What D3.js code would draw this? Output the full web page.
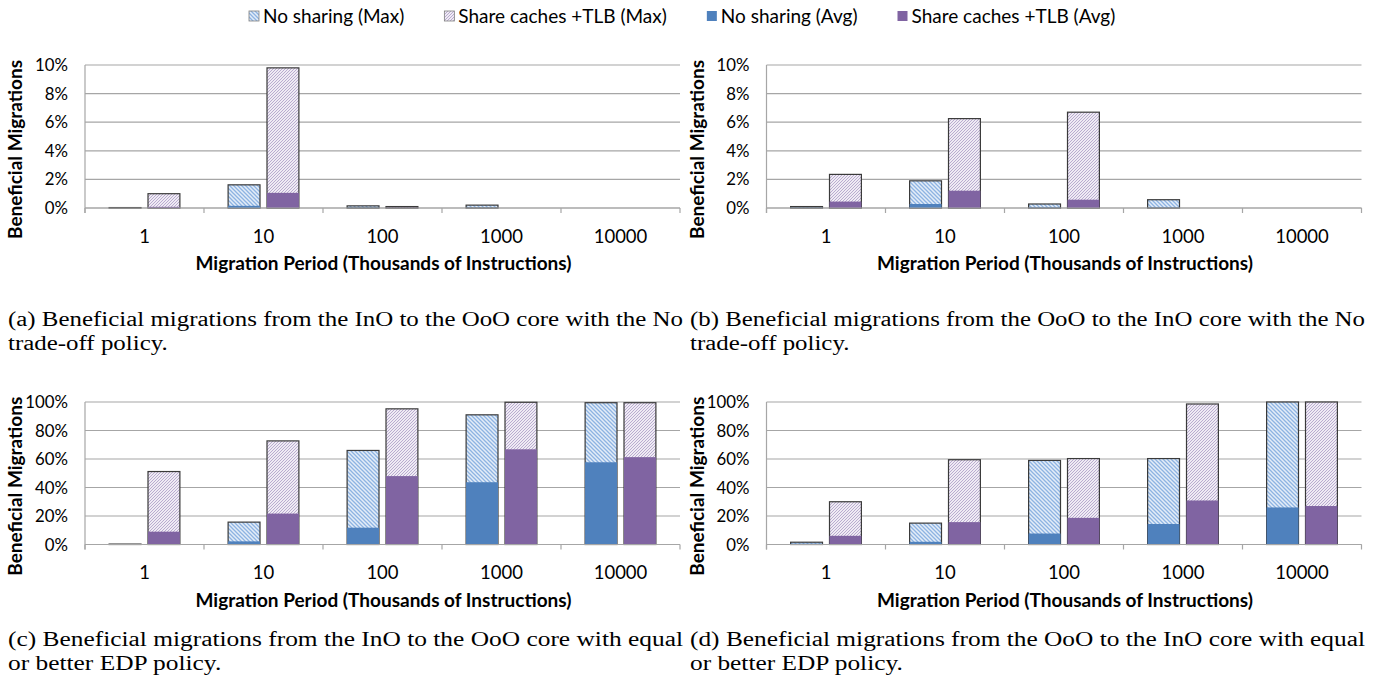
<!DOCTYPE html>
<html>
<head>
<meta charset="utf-8">
<script src="https://cdn.jsdelivr.net/npm/d3@7"></script>
<style>
  body { margin: 0; background: #fff; }
  #wrap { position: relative; width: 1374px; height: 679px; overflow: hidden; }
  svg { position: absolute; left: 0; top: 0; }
  .cap { position: absolute; white-space: nowrap; font-family: "Liberation Serif", "Times New Roman", serif; font-size: 20px; line-height: 24px; color: #000; transform-origin: 0 0; }
  .cap span { display: inline-block; }
</style>
</head>
<body>
<div id="wrap">
  <svg id="chart" width="1374" height="679"></svg>
</div>
<script>
// categories (migration period, thousands of instructions)
var periods = ["1", "10", "100", "1000", "10000"];
var seriesNames = ["No sharing (Max)", "Share caches +TLB (Max)", "No sharing (Avg)", "Share caches +TLB (Avg)"];

// (a) InO -> OoO, No trade-off  (percent)
var a_noShareMax = [0.03, 1.62, 0.15, 0.2, 0];
var a_noShareAvg = [0, 0.15, 0.02, 0.01, 0];
var a_shareMax   = [1.0, 9.8, 0.1, 0, 0];
var a_shareAvg   = [0.08, 1.06, 0.02, 0, 0];

// (b) OoO -> InO, No trade-off
var b_noShareMax = [0.1, 1.9, 0.28, 0.58, 0];
var b_noShareAvg = [0.02, 0.28, 0.03, 0.02, 0];
var b_shareMax   = [2.35, 6.25, 6.7, 0, 0];
var b_shareAvg   = [0.45, 1.21, 0.58, 0, 0];

// (c) InO -> OoO, equal or better EDP
var c_noShareMax = [0.3, 15.7, 66, 91, 99.5];
var c_noShareAvg = [0, 2.2, 11.8, 43.7, 57.7];
var c_shareMax   = [51.2, 72.7, 95.2, 99.8, 99.5];
var c_shareAvg   = [9, 21.7, 48, 66.8, 61.3];

// (d) OoO -> InO, equal or better EDP
var d_noShareMax = [1.6, 15, 59, 60.3, 100];
var d_noShareAvg = [0.6, 1.9, 7.7, 14.4, 26];
var d_shareMax   = [30, 59.5, 60.3, 98.6, 100];
var d_shareAvg   = [6.1, 15.7, 18.7, 30.9, 27];

var smallTicks = [0, 2, 4, 6, 8, 10];
var bigTicks = [0, 20, 40, 60, 80, 100];

var captions = [
  ["(a) Beneficial migrations from the InO to the OoO core with the No", "trade-off policy."],
  ["(b) Beneficial migrations from the OoO to the InO core with the No", "trade-off policy."],
  ["(c) Beneficial migrations from the InO to the OoO core with equal", "or better EDP policy."],
  ["(d) Beneficial migrations from the OoO to the InO core with equal", "or better EDP policy."]
];

var uiFont = "Lato, 'Open Sans', sans-serif";
var blue = "#4f81bd", purple = "#8064a2";

var svg = d3.select("#chart");

// hatch patterns for the Max bars
var defs = svg.append("defs");
var pb = defs.append("pattern").attr("id", "hatchBlue")
  .attr("patternUnits", "userSpaceOnUse").attr("width", 4).attr("height", 4);
pb.append("rect").attr("width", 4).attr("height", 4).attr("fill", "#e4edf8");
pb.append("path").attr("d", "M-1,-1 L5,5 M3,-1 L5,1 M-1,3 L1,5")
  .attr("stroke", "#8db3e2").attr("stroke-width", 1.3);
var pp = defs.append("pattern").attr("id", "hatchPurple")
  .attr("patternUnits", "userSpaceOnUse").attr("width", 3).attr("height", 3);
pp.append("rect").attr("width", 3).attr("height", 3).attr("fill", "#efebf4");
pp.append("path").attr("d", "M-1,4 L4,-1 M-1,1 L1,-1 M2,4 L4,2")
  .attr("stroke", "#b9abd0").attr("stroke-width", 1);

var panels = [
  {left: 85, right: 680, top: 65, bottom: 208, max: 10, ticks: smallTicks,
   nsMax: a_noShareMax, nsAvg: a_noShareAvg, shMax: a_shareMax, shAvg: a_shareAvg},
  {left: 766.5, right: 1361.5, top: 65, bottom: 208, max: 10, ticks: smallTicks,
   nsMax: b_noShareMax, nsAvg: b_noShareAvg, shMax: b_shareMax, shAvg: b_shareAvg},
  {left: 85, right: 680, top: 402, bottom: 544.5, max: 100, ticks: bigTicks,
   nsMax: c_noShareMax, nsAvg: c_noShareAvg, shMax: c_shareMax, shAvg: c_shareAvg},
  {left: 766.5, right: 1361.5, top: 402, bottom: 544.5, max: 100, ticks: bigTicks,
   nsMax: d_noShareMax, nsAvg: d_noShareAvg, shMax: d_shareMax, shAvg: d_shareAvg}
];

panels.forEach(function(p){
  var g = svg.append("g");
  var x = d3.scaleBand().domain(periods).range([p.left, p.right]);
  var x1 = d3.scaleBand().domain(["ns", "sh"]).range([0, x.bandwidth()])
    .paddingInner(0.18).paddingOuter(0.62);
  var y = d3.scaleLinear().domain([0, p.max]).range([p.bottom, p.top]);

  // gridlines
  g.selectAll(".grid").data(p.ticks).enter().append("line")
    .attr("x1", p.left).attr("x2", p.right)
    .attr("y1", function(d){ return y(d); }).attr("y2", function(d){ return y(d); })
    .attr("stroke", "#a6a6a6").attr("stroke-width", 1.2);

  // y axis line
  g.append("line").attr("x1", p.left).attr("x2", p.left)
    .attr("y1", p.top).attr("y2", p.bottom + 5)
    .attr("stroke", "#a6a6a6").attr("stroke-width", 1.2);

  // y tick labels
  g.selectAll(".yl").data(p.ticks).enter().append("text")
    .attr("x", p.left - 17).attr("y", function(d){ return y(d) + 6; })
    .attr("text-anchor", "end").attr("font-family", uiFont).attr("font-size", 16.8)
    .attr("fill", "#000").text(function(d){ return d + "%"; });

  // bars: Max (hatched) behind, Avg (solid) in front
  var groups = periods.map(function(c, i){
    return {cat: c, nsMax: p.nsMax[i], nsAvg: p.nsAvg[i], shMax: p.shMax[i], shAvg: p.shAvg[i]};
  });
  var bars = [];
  groups.forEach(function(d){
    bars.push({cat: d.cat, k: "ns", v: d.nsMax, fill: "url(#hatchBlue)", stroke: true});
    bars.push({cat: d.cat, k: "sh", v: d.shMax, fill: "url(#hatchPurple)", stroke: true});
    bars.push({cat: d.cat, k: "ns", v: d.nsAvg, fill: blue, stroke: false});
    bars.push({cat: d.cat, k: "sh", v: d.shAvg, fill: purple, stroke: false});
  });
  g.selectAll(".bar").data(bars.filter(function(b){ return b.v > 0; })).enter().append("rect")
    .attr("x", function(b){ return x(b.cat) + x1(b.k); })
    .attr("width", x1.bandwidth())
    .attr("y", function(b){ return y(b.v); })
    .attr("height", function(b){ return Math.max(0, p.bottom - y(b.v)); })
    .attr("fill", function(b){ return b.fill; })
    .attr("stroke", function(b){ return b.stroke ? "#3a3a3a" : "none"; })
    .attr("stroke-width", 1.2);

  // bottom axis
  var xAxis = d3.axisBottom(x).tickSize(0).tickPadding(0).tickFormat(function(){ return ""; });
  var ax = g.append("g").attr("transform", "translate(0," + p.bottom + ")").call(xAxis);
  ax.select(".domain").remove();
  g.append("line").attr("x1", p.left).attr("x2", p.right)
    .attr("y1", p.bottom).attr("y2", p.bottom)
    .attr("stroke", "#a6a6a6").attr("stroke-width", 1.2);
  var bounds = periods.map(function(c){ return x(c); }).concat([p.right]);
  g.selectAll(".xt").data(bounds).enter().append("line")
    .attr("x1", function(d){ return d; }).attr("x2", function(d){ return d; })
    .attr("y1", p.bottom).attr("y2", p.bottom + 5)
    .attr("stroke", "#a6a6a6").attr("stroke-width", 1.2);
  g.selectAll(".xl").data(periods).enter().append("text")
    .attr("x", function(d){ return x(d) + x.bandwidth() / 2; })
    .attr("y", p.bottom + 34.5)
    .attr("text-anchor", "middle").attr("font-family", uiFont).attr("font-size", 18.5)
    .text(function(d){ return d; });

  // axis titles
  g.append("text").attr("x", (p.left + p.right) / 2 + 1).attr("y", p.bottom + 62)
    .attr("text-anchor", "middle").attr("font-family", uiFont).attr("font-weight", "bold")
    .attr("font-size", 19).text("Migration Period (Thousands of Instructions)");
  g.append("text")
    .attr("transform", "translate(" + (p.left - 63) + "," + ((p.top + p.bottom) / 2 + 13) + ") rotate(-90)")
    .attr("text-anchor", "middle").attr("font-family", uiFont).attr("font-weight", "bold")
    .attr("font-size", 19).text("Beneficial Migrations");
});

// legend
var legendFills = ["url(#hatchBlue)", "url(#hatchPurple)", blue, purple];
var lg = svg.append("g");
var lx = 249;
seriesNames.forEach(function(name, i){
  lg.append("rect").attr("x", lx).attr("y", 11).attr("width", 10).attr("height", 10)
    .attr("fill", legendFills[i]).attr("stroke", i < 2 ? "#7f7f7f" : "none").attr("stroke-width", 0.8);
  var t = lg.append("text").attr("x", lx + 14).attr("y", 22.5)
    .attr("font-family", uiFont).attr("font-size", 19).text(name);
  lx += 14 + t.node().getComputedTextLength() + 40;
});

// captions: the source figure is stretched horizontally, so stretch each caption to the column width
var capPos = [[8, 307], [690, 307], [8, 627], [690, 627]];
captions.forEach(function(c, i){
  var div = d3.select("#wrap").append("div").attr("class", "cap")
    .style("left", capPos[i][0] + "px").style("top", capPos[i][1] + "px");
  var s1 = div.append("span").text(c[0]);
  div.append("br");
  div.append("span").text(c[1]);
  var w = s1.node().getBoundingClientRect().width;
  div.style("transform", "scaleX(" + (675 / w) + ")");
});
</script>
</body>
</html>
